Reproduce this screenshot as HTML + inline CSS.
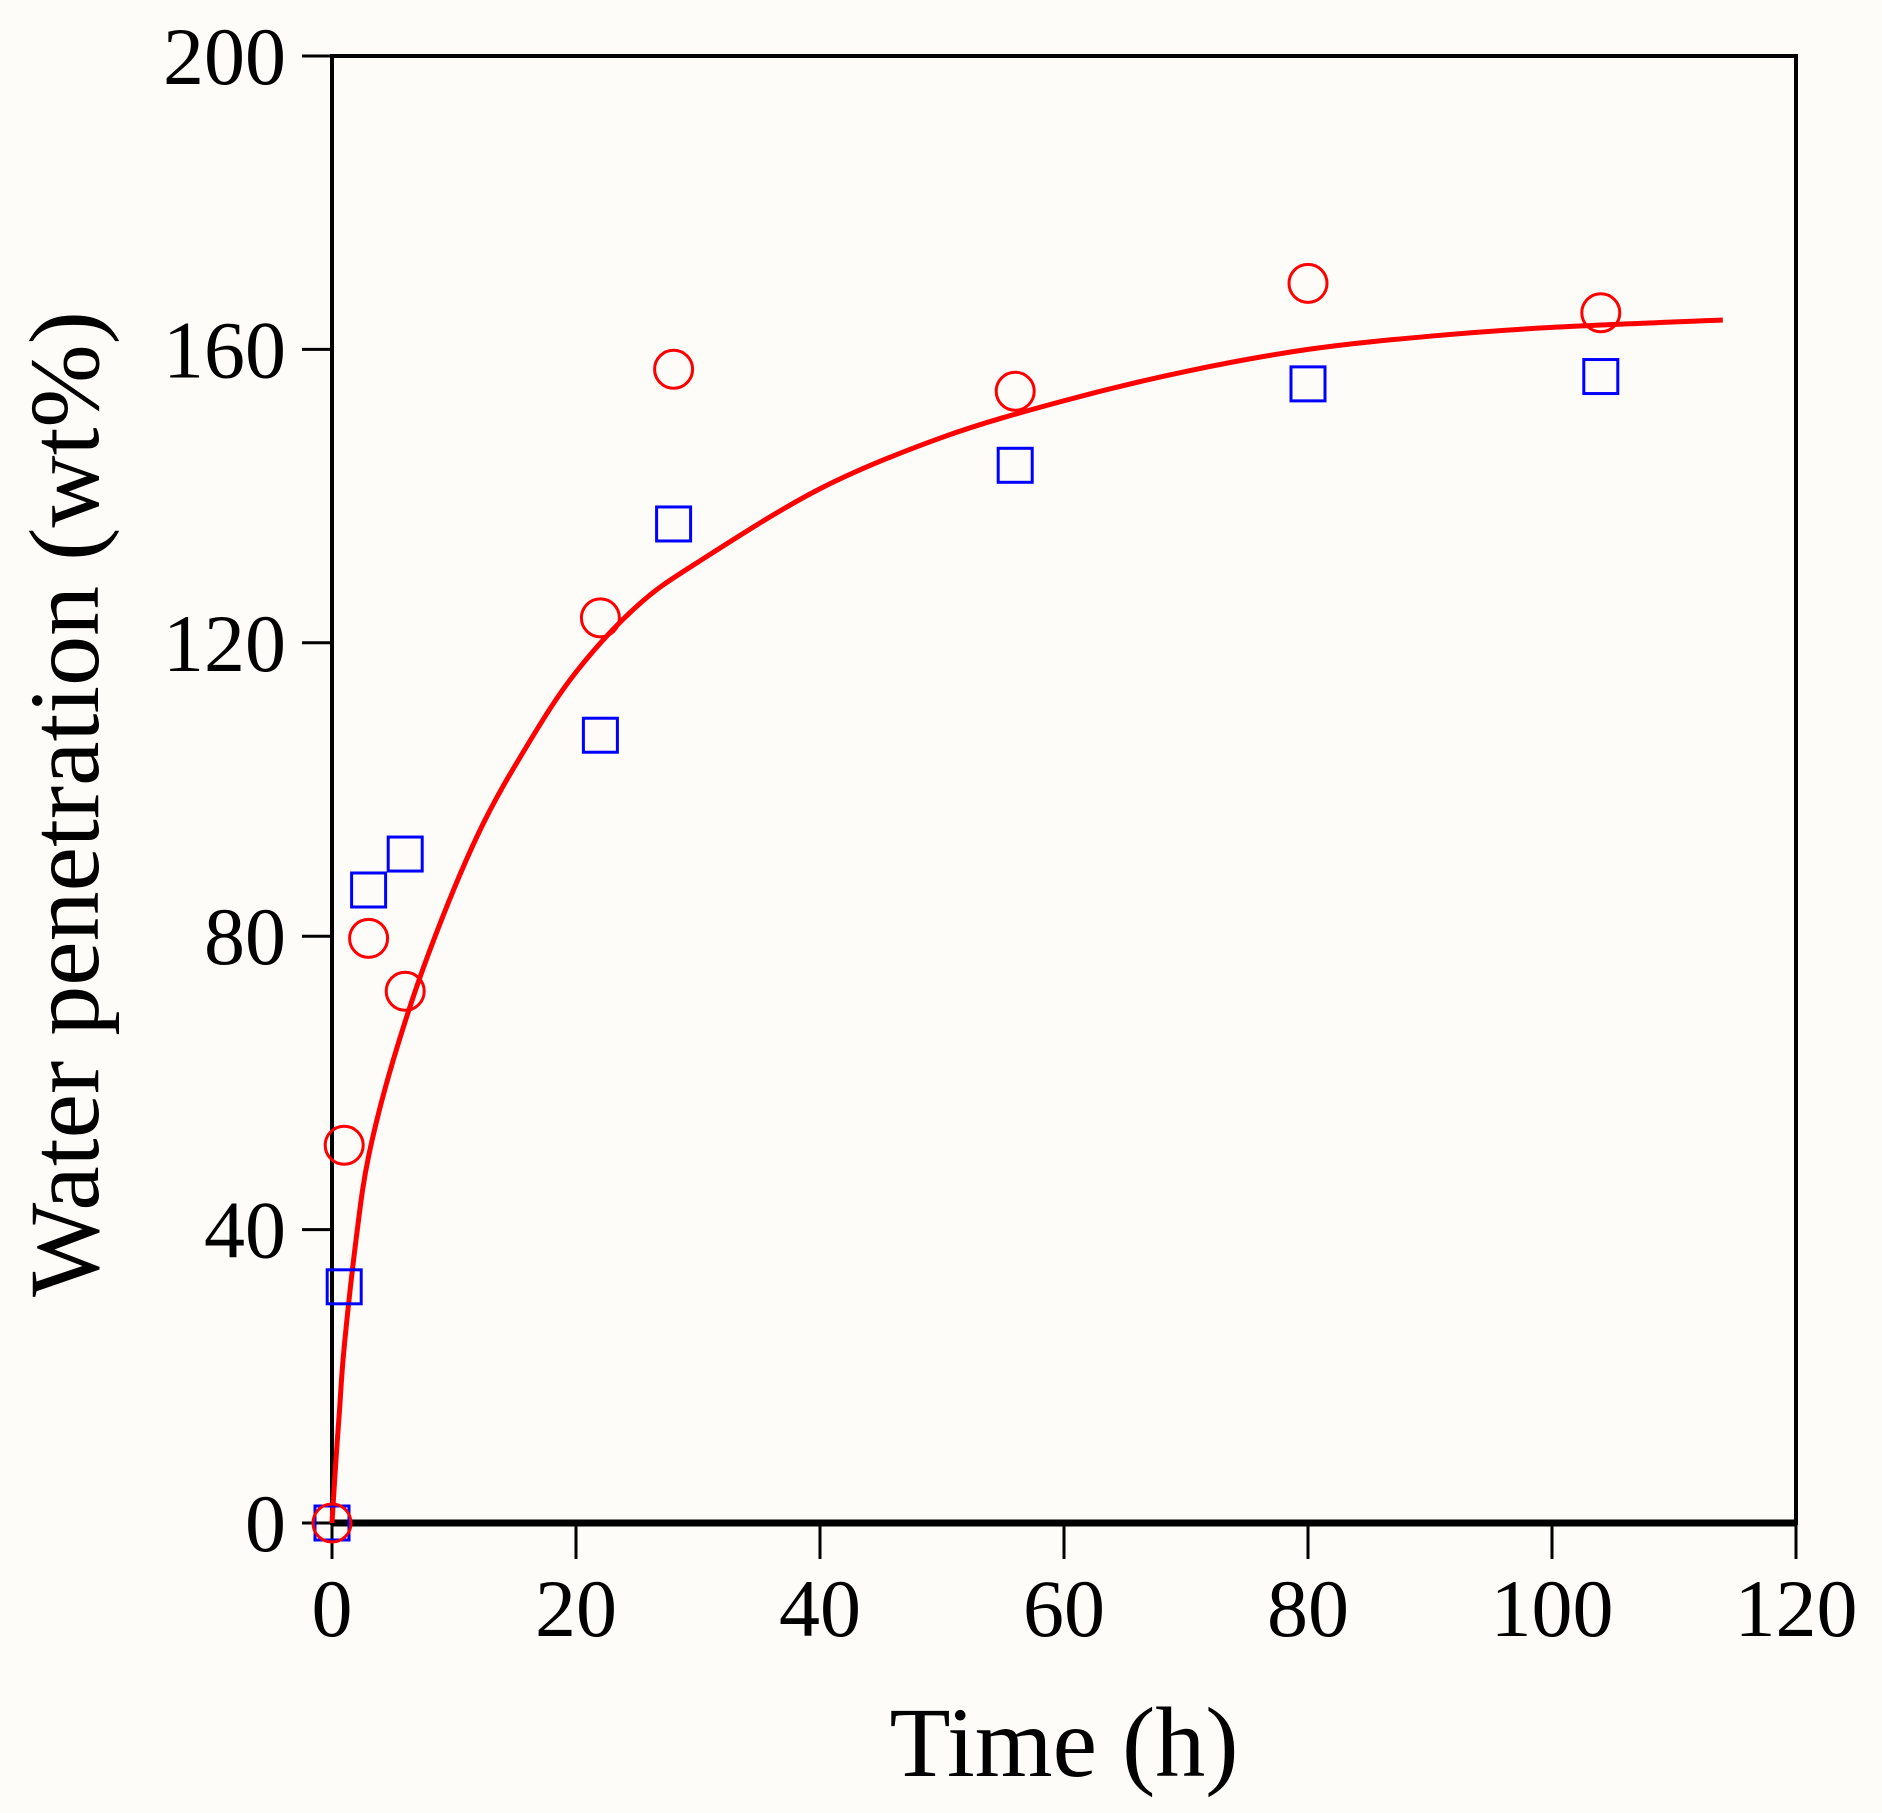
<!DOCTYPE html>
<html><head><meta charset="utf-8"><style>
html,body{margin:0;padding:0;background:#fdfcf9;}
svg{display:block;font-family:"Liberation Serif",serif;}
</style></head><body>
<svg id="chart" width="1882" height="1813" xmlns="http://www.w3.org/2000/svg">
<rect x="0" y="0" width="1882" height="1813" fill="#fdfcf9"/>
<g id="g"></g>
</svg>
<script>
const xTicks=[0,20,40,60,80,100,120];
const yTicks=[0,40,80,120,160,200];
const circleT=[0,1,3,6,22,28,56,80,104];
const circleV=[0,51.5,79.7,72.5,123.4,157.3,154.3,169,165];
const squareT=[0,1,3,6,22,28,56,80,104];
const squareV=[0,32.2,86.3,91.2,107.4,136.2,144.2,155.3,156.3];
const fitT=[0,0.3,0.6,1,2,3,5,8,12,16,20,25,30,40,50,60,70,80,90,100,114];
const fitV=[0,8,15,24,39,50,63,78,94,106,116,125,131,141,148,153,157,160,161.8,163,164];
const L=332,R=1796,T=56,B=1523;
const sx=v=>L+(v-0)/120*(R-L);
const sy=v=>B-(v-0)/200*(B-T);
const NS="http://www.w3.org/2000/svg";
const g=document.getElementById('g');
function mk(tag,attrs){const e=document.createElementNS(NS,tag);for(const k in attrs)e.setAttribute(k,attrs[k]);g.appendChild(e);return e;}
let e=mk('rect',{x:L,y:T,width:R-L,height:B-T,fill:'none',stroke:'#000','stroke-width':4});


e=mk('line',{x1:L,y1:B,x2:R,y2:B,stroke:'#000','stroke-width':7});


xTicks.forEach(v=>{
 let t=mk('line',{x1:sx(v),y1:B,x2:sx(v),y2:B+36,stroke:'#000','stroke-width':3});
 
 
 let l=mk('text',{x:sx(v),y:1636,'text-anchor':'middle','font-size':82});
 l.textContent=v;
 
 
});
yTicks.forEach(v=>{
 let t=mk('line',{x1:L-30,y1:sy(v),x2:L,y2:sy(v),stroke:'#000','stroke-width':3});
 
 
 let l=mk('text',{x:286,y:sy(v)+28,'text-anchor':'end','font-size':82});
 l.textContent=v;
 
 
});
e=mk('text',{x:1064,y:1776,'text-anchor':'middle','font-size':100});
e.textContent='Time (h)';


e=mk('text',{x:0,y:0,'text-anchor':'middle','font-size':100,transform:'translate(98,804) rotate(-90)'});
e.textContent='Water penetration (wt%)';


// smooth fit curve (Catmull-Rom)
const P=fitT.map((t,i)=>[sx(t),sy(fitV[i])]);
let d='M'+P[0][0]+','+P[0][1];
for(let i=0;i<P.length-1;i++){
 const p0=P[Math.max(0,i-1)],p1=P[i],p2=P[i+1],p3=P[Math.min(P.length-1,i+2)];
 const c1=[p1[0]+(p2[0]-p0[0])/6,p1[1]+(p2[1]-p0[1])/6];
 const c2=[p2[0]-(p3[0]-p1[0])/6,p2[1]-(p3[1]-p1[1])/6];
 d+=' C'+c1[0]+','+c1[1]+' '+c2[0]+','+c2[1]+' '+p2[0]+','+p2[1];
}
e=mk('path',{d:d,fill:'none',stroke:'#f00','stroke-width':5});


squareT.forEach((t,i)=>{
 let s=mk('rect',{x:sx(t)-17,y:sy(squareV[i])-17,width:34,height:34,fill:'none',stroke:'#00f','stroke-width':3});
 
 
});
circleT.forEach((t,i)=>{
 let c=mk('circle',{cx:sx(t),cy:sy(circleV[i]),r:19,fill:'none',stroke:'#f00','stroke-width':3});
 
 
});
</script>
</body></html>
